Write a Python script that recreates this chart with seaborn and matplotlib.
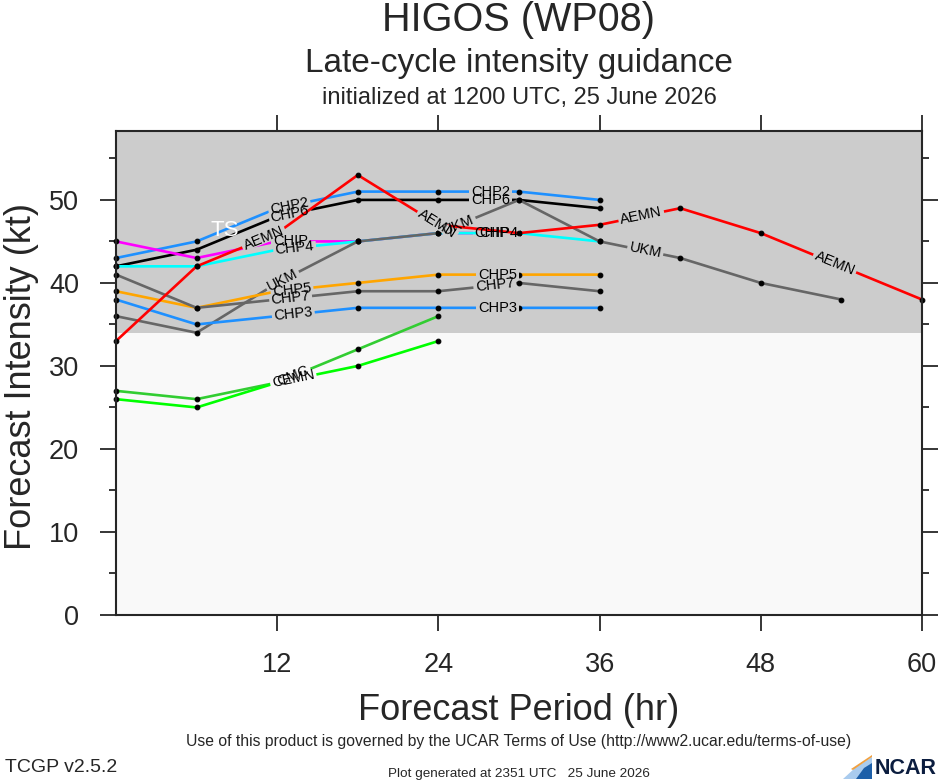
import numpy as np
import pandas as pd
import matplotlib
matplotlib.use('Agg')
import matplotlib.pyplot as plt
from matplotlib.ticker import MultipleLocator
from matplotlib.patches import Polygon
import seaborn as sns

# datos (kt cada 6 h)
horas = [0, 6, 12, 18, 24, 30, 36, 42, 48, 54, 60]

aemn = [33, 42, 46, 53, 47, 46, 47, 49, 46, 42, 38]
ukm = [36, 34, 40, 45, 46, 50, 45, 43, 40, 38]
chp2 = [43, 45, 49, 51, 51, 51, 50]
chp6 = [42, 44, 48, 50, 50, 50, 49]
chip = [45, 43, 45, 45, 46, 46]
chp4 = [42, 42, 44, 45, 46, 46, 45]
chp5 = [39, 37, 39, 40, 41, 41, 41]
chp7 = [41, 37, 38, 39, 39, 40, 39]
chp3 = [38, 35, 36, 37, 37, 37, 37]
cmc = [27, 26, 28, 32, 36]
cemn = [26, 25, 28, 30, 33]

modelos = ['CHP2', 'CHP6', 'CHIP', 'CHP4', 'UKM', 'CHP5', 'CHP7', 'CHP3', 'CMC', 'CEMN', 'AEMN']
valores = {'CHP2': chp2, 'CHP6': chp6, 'CHIP': chip, 'CHP4': chp4, 'UKM': ukm,
           'CHP5': chp5, 'CHP7': chp7, 'CHP3': chp3, 'CMC': cmc, 'CEMN': cemn, 'AEMN': aemn}
colores = {'CHP2': '#1e90ff', 'CHP6': 'black', 'CHIP': '#ff00ff', 'CHP4': '#00ffff',
           'UKM': '#666666', 'CHP5': '#ffa500', 'CHP7': '#666666', 'CHP3': '#1e90ff',
           'CMC': '#32cd32', 'CEMN': '#00ff00', 'AEMN': '#ff0000'}
# horas donde va la etiqueta de cada linea
etiquetas = {'CHP2': [12.9, 27.9], 'CHP6': [12.95, 27.9], 'CHIP': [13.0, 28.0],
             'CHP4': [13.3, 28.5], 'UKM': [12.4, 25.5, 39.4], 'CHP5': [13.1, 28.4],
             'CHP7': [13.0, 28.2], 'CHP3': [13.2, 28.4], 'CMC': [13.2], 'CEMN': [13.2],
             'AEMN': [11.0, 23.9, 39.1, 53.5]}

filas = []
for m in modelos:
    for h, v in zip(horas, valores[m]):
        filas.append({'modelo': m, 'hora': h, 'kt': v})
df = pd.DataFrame(filas)

sns.set_style("ticks")
plt.rcParams['font.family'] = ['Liberation Sans', 'DejaVu Sans']

fig = plt.figure(figsize=(9.39, 7.80), dpi=100)
ax = fig.add_axes([116 / 939, 1 - 615 / 780, (922 - 116) / 939, (615 - 131) / 780])
ax.set_xlim(0, 60)
ax.set_ylim(0, 58.3)
ax.set_facecolor('#f9f9f9')
ax.axhspan(34, 58.3, color='#cccccc', zorder=0, lw=0)

for i, m in enumerate(modelos):
    d = df[df['modelo'] == m]
    sns.lineplot(data=d, x='hora', y='kt', ax=ax, color=colores[m], linewidth=1.9,
                 marker='o', markersize=3.4, markerfacecolor='black', markeredgecolor='black',
                 estimator=None, zorder=3 + i, clip_on=False)

ax.set_xticks([12, 24, 36, 48, 60])
ax.set_yticks([0, 10, 20, 30, 40, 50])
ax.yaxis.set_minor_locator(MultipleLocator(5))
ax.tick_params(axis='both', which='major', direction='out', length=11.5, width=1.3,
               labelsize=19.5, pad=15, top=True, right=True)
ax.tick_params(axis='y', which='minor', direction='out', length=5, width=1.3, right=True)
for s in ax.spines.values():
    s.set_linewidth(1.5)
    s.set_zorder(20)
ax.set_xlabel('')
ax.set_ylabel('')

# etiquetas sobre las lineas: hueco en la propia linea y texto encima de todo
renderer = fig.canvas.get_renderer()
inv = ax.transData.inverted()
for i, m in enumerate(modelos):
    xs = np.array(horas[:len(valores[m])], dtype=float)
    ys = np.array(valores[m], dtype=float)
    for xl in etiquetas[m]:
        yl = np.interp(xl, xs, ys)
        k = min(max(np.searchsorted(xs, xl), 1), len(xs) - 1)
        p0 = ax.transData.transform((xs[k - 1], ys[k - 1]))
        p1 = ax.transData.transform((xs[k], ys[k]))
        ang = np.degrees(np.arctan2(p1[1] - p0[1], p1[0] - p0[0]))
        t = ax.text(xl, yl, m, fontsize=10.5, ha='center', va='center', rotation=ang,
                    rotation_mode='anchor', zorder=30, color='black')
        # ancho del texto sin rotar, para el hueco
        t.set_rotation(0)
        ancho = t.get_window_extent(renderer).width
        t.set_rotation(ang)
        u = (p1 - p0) / np.hypot(*(p1 - p0))
        c = ax.transData.transform((xl, yl))
        a = inv.transform(c - u * (ancho / 2 + 2))
        b = inv.transform(c + u * (ancho / 2 + 2))
        fondo = '#cccccc' if yl > 34 else '#f9f9f9'
        ax.plot([a[0], b[0]], [a[1], b[1]], color=fondo, linewidth=7,
                solid_capstyle='butt', zorder=3 + i + 0.5)

ax.text(8.1, 46.3, 'TS', color='white', fontsize=16, ha='center', va='center', zorder=31)

# textos
cx = 519 / 939
fig.text(cx, 1 - 31 / 780, 'HIGOS (WP08)', fontsize=28.5, ha='center', va='baseline')
fig.text(cx, 1 - 72 / 780, 'Late-cycle intensity guidance', fontsize=24, ha='center', va='baseline')
fig.text(cx, 1 - 104 / 780, 'initialized at 1200 UTC, 25 June 2026', fontsize=17, ha='center', va='baseline')
fig.text(22 / 939, 1 - 376 / 780, 'Forecast Intensity (kt)', fontsize=26, rotation=90,
         ha='center', va='center')
fig.text(cx, 1 - 720 / 780, 'Forecast Period (hr)', fontsize=26, ha='center', va='baseline')
fig.text(cx, 1 - 746 / 780, 'Use of this product is governed by the UCAR Terms of Use (http://www2.ucar.edu/terms-of-use)',
         fontsize=11.3, ha='center', va='baseline')
fig.text(5 / 939, 1 - 772 / 780, 'TCGP v2.5.2', fontsize=14, ha='left', va='baseline')
fig.text(cx, 1 - 777 / 780, 'Plot generated at 2351 UTC   25 June 2026', fontsize=9.7,
         ha='center', va='baseline')

# logo NCAR
def pfig(x, y):
    return (x / 939, 1 - y / 780)

fig.patches.append(Polygon([pfig(843, 779), pfig(855, 768), pfig(872, 757), pfig(872, 779)],
                           closed=True, transform=fig.transFigure, fc='#a9cbee', ec='none'))
fig.patches.append(Polygon([pfig(856, 779), pfig(864, 768), pfig(872, 763), pfig(872, 779)],
                           closed=True, transform=fig.transFigure, fc='#1d5fa8', ec='none'))
fig.patches.append(Polygon([pfig(851, 769), pfig(872, 755), pfig(872, 757), pfig(853, 770)],
                           closed=True, transform=fig.transFigure, fc='#f0a040', ec='none'))
fig.text(937 / 939, 1 - 779 / 780, 'NCAR', fontsize=15.5, fontweight='bold', color='#0b1d3f',
         ha='right', va='bottom')

fig.savefig('out.png', dpi=100)
plt.close(fig)
